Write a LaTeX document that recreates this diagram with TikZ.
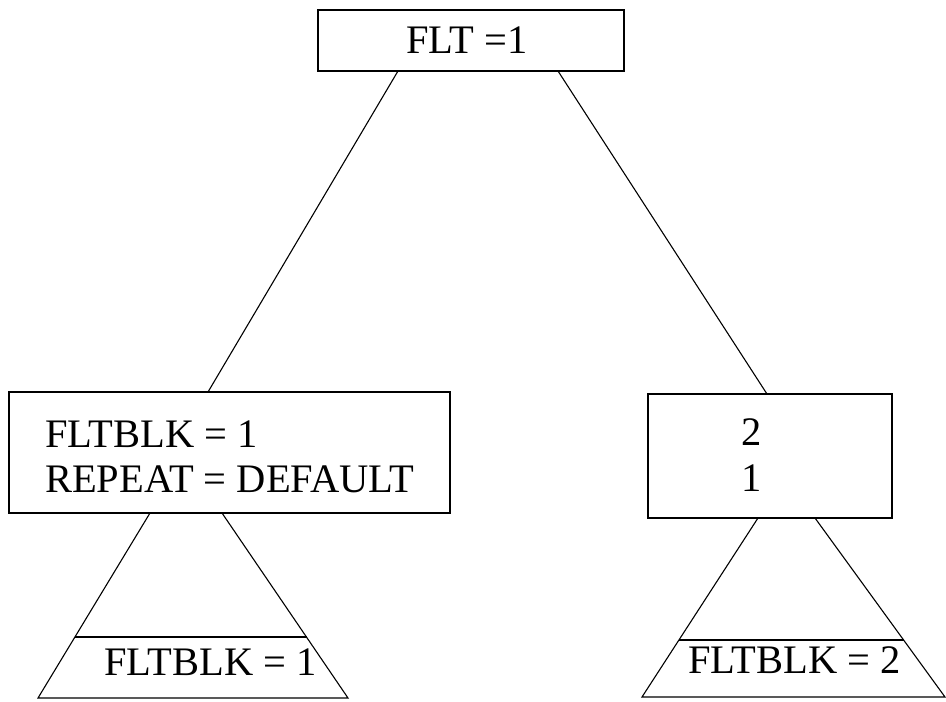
\documentclass[tikz,border=0pt]{standalone}
\usepackage{fontspec}
\setmainfont{Liberation Serif}
\begin{document}
\begin{tikzpicture}[x=1pt,y=-1pt,
  box/.style={draw, line width=1.3pt, inner sep=0pt, outer sep=0pt},
  txt/.style={anchor=base west, inner sep=0pt, font=\fontsize{40.5}{46}\selectfont},
  ln/.style={line width=1.1pt}]
\useasboundingbox (0,0) rectangle (946,702);
% boxes
\node[box, minimum width=306pt, minimum height=61pt] (top) at (471,40.5) {};
\node[box, minimum width=441pt, minimum height=121pt] (lbox) at (229.5,452.5) {};
\node[box, minimum width=244pt, minimum height=124pt] (rbox) at (770,456) {};
% texts
\node[txt] (toptxt) at (406,53) {FLT =1};
\node[txt] (l1) at (45,447) {FLTBLK = 1};
\node[txt] (l2) at (45,492) {REPEAT = DEFAULT};
\node[txt, anchor=base] (r1) at (752,445) {2};
\node[txt, anchor=base] (r2) at (752,491) {1};
% connector end points
\coordinate (ta) at (398,71);
\coordinate (tb) at (558,71);
\coordinate (la) at (208,392);
\coordinate (rb) at (767,394);
\draw[ln] (ta) -- (la);
\draw[ln] (tb) -- (rb);
% left triangle
\coordinate (lt1) at (150,513);
\coordinate (lt2) at (222,513);
\coordinate (lb1) at (38,698);
\coordinate (lb2) at (348,698);
\draw[ln] (lt1) -- (lb1) -- (lb2) -- (lt2);
\draw[ln] (75,637) -- (306.5,637);
\node[txt] (ltxt) at (104,675) {FLTBLK = 1};
% right triangle
\coordinate (rt1) at (758,518);
\coordinate (rt2) at (815,518);
\coordinate (rb1) at (642,697);
\coordinate (rb2) at (945,697);
\draw[ln] (rt1) -- (rb1) -- (rb2) -- (rt2);
\draw[ln] (679,640) -- (903.7,640);
\node[txt] (rtxt) at (688,673) {FLTBLK = 2};
\end{tikzpicture}
\end{document}
